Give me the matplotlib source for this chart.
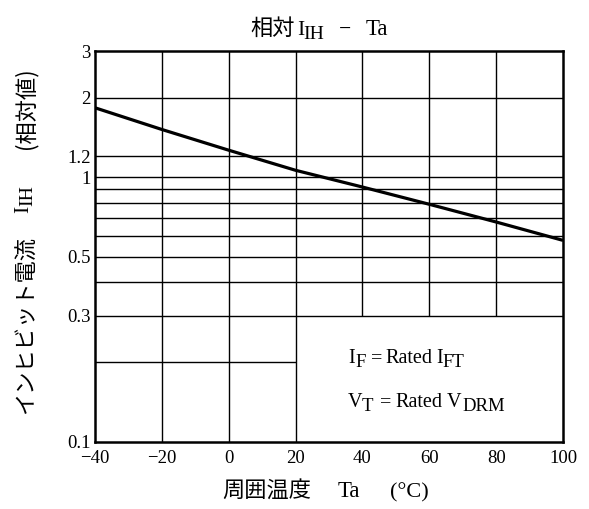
import matplotlib
matplotlib.use("Agg")
import matplotlib.pyplot as plt
from matplotlib.transforms import IdentityTransform

# curve
ta = [-40, -20, 0, 20, 40, 60, 80, 100]
ih_rel = [1.83, 1.515, 1.265, 1.062, 0.918, 0.790, 0.677, 0.577]

x_ticks = [-40, -20, 0, 20, 40, 60, 80, 100]
x_tick_labels = ["\u221240", "\u221220", "0", "20", "40", "60", "80", "100"]
y_ticks = [0.1, 0.3, 0.5, 1, 1.2, 2, 3]
y_tick_labels = ["0.1", "0.3", "0.5", "1", "1.2", "2", "3"]

# grid layout (the lower right corner is left blank for the note box)
h_full = [0.3, 0.4, 0.5, 0.6, 0.7, 0.8, 0.9, 1.0, 1.2, 2.0]
h_part = [0.2]
v_full = [-20, 0, 20]
v_part = [40, 60, 80]

SERIF = "Liberation Serif"
JP = ["Noto Sans CJK JP", "Liberation Serif"]
H = 509

fig = plt.figure(figsize=(5.89, 5.09), dpi=100)
ax = fig.add_axes([95 / 589, 1 - 441.7 / H, 468 / 589, 390.7 / H])
ax.set_yscale("log")
ax.set_xlim(-40, 100)
ax.set_ylim(0.1, 3)

ax.hlines(h_full, -40, 100, color="black", lw=1.0)
ax.hlines(h_part, -40, 20, color="black", lw=1.0)
ax.vlines(v_full, 0.1, 3, color="black", lw=1.0)
ax.vlines(v_part, 0.3, 3, color="black", lw=1.0)

ax.plot(ta, ih_rel, color="black", lw=2.3, solid_capstyle="butt")

ax.set_xticks(x_ticks)
ax.set_xticklabels(x_tick_labels)
ax.set_yticks(y_ticks)
ax.set_yticklabels(y_tick_labels)
ax.yaxis.set_minor_locator(matplotlib.ticker.NullLocator())
ax.tick_params(length=0, labelsize=13.5)
ax.tick_params(axis="x", pad=6)
ax.tick_params(axis="y", pad=3)
for lab in ax.get_xticklabels() + ax.get_yticklabels():
    lab.set_family(SERIF)
for s in ax.spines.values():
    s.set_linewidth(1.8)


def piece(x, y, s, size, fam=SERIF, rotation=0):
    """Put one text piece with its baseline start at (x, y) in pixels."""
    fig.text(x, y, s, fontsize=size, family=fam, transform=IdentityTransform(),
             ha="left", va="baseline", rotation=rotation, rotation_mode="anchor")


# title
b = H - 35
piece(250, b, "相対", 16, JP)
piece(297, b, "I", 15.5)
piece(303, b - 4, "IH", 14)
piece(339, b, "\u2212", 15.5)
piece(366, b, "Ta", 16.5)

# note box
b = H - 362.7
piece(348, b, "I", 14.5)
piece(355, b - 4, "F", 13.5)
piece(371, b, "=", 14.5)
piece(385, b, "Rated", 14.5)
piece(436.5, b, "I", 14.5)
piece(442.5, b - 4, "FT", 13.5)
b = H - 406.7
piece(348, b, "V", 14.5)
piece(362, b - 4, "T", 13.5)
piece(380, b, "=", 14.5)
piece(395, b, "Rated", 14.5)
piece(447, b, "V", 14.5)
piece(462, b - 4, "DRM", 13.5)

# x label
b = H - 497
piece(222, b, "周囲温度", 16, JP)
piece(338, b, "Ta", 16.5)
piece(390, b, "(\u00b0C)", 16)

# y label (reads bottom to top)
fig.text(26, H - 325, "インヒビット電流", family=JP, fontsize=16, rotation=90,
         ha="center", va="center", transform=IdentityTransform())
piece(28, H - 213, "I", 15.5, rotation=90)
piece(32, H - 206.5, "IH", 14, rotation=90)
fig.text(26, H - 108, "(相対値)", family=JP, fontsize=16, rotation=90,
         ha="center", va="center", transform=IdentityTransform())

fig.savefig("out.png", dpi=100)
